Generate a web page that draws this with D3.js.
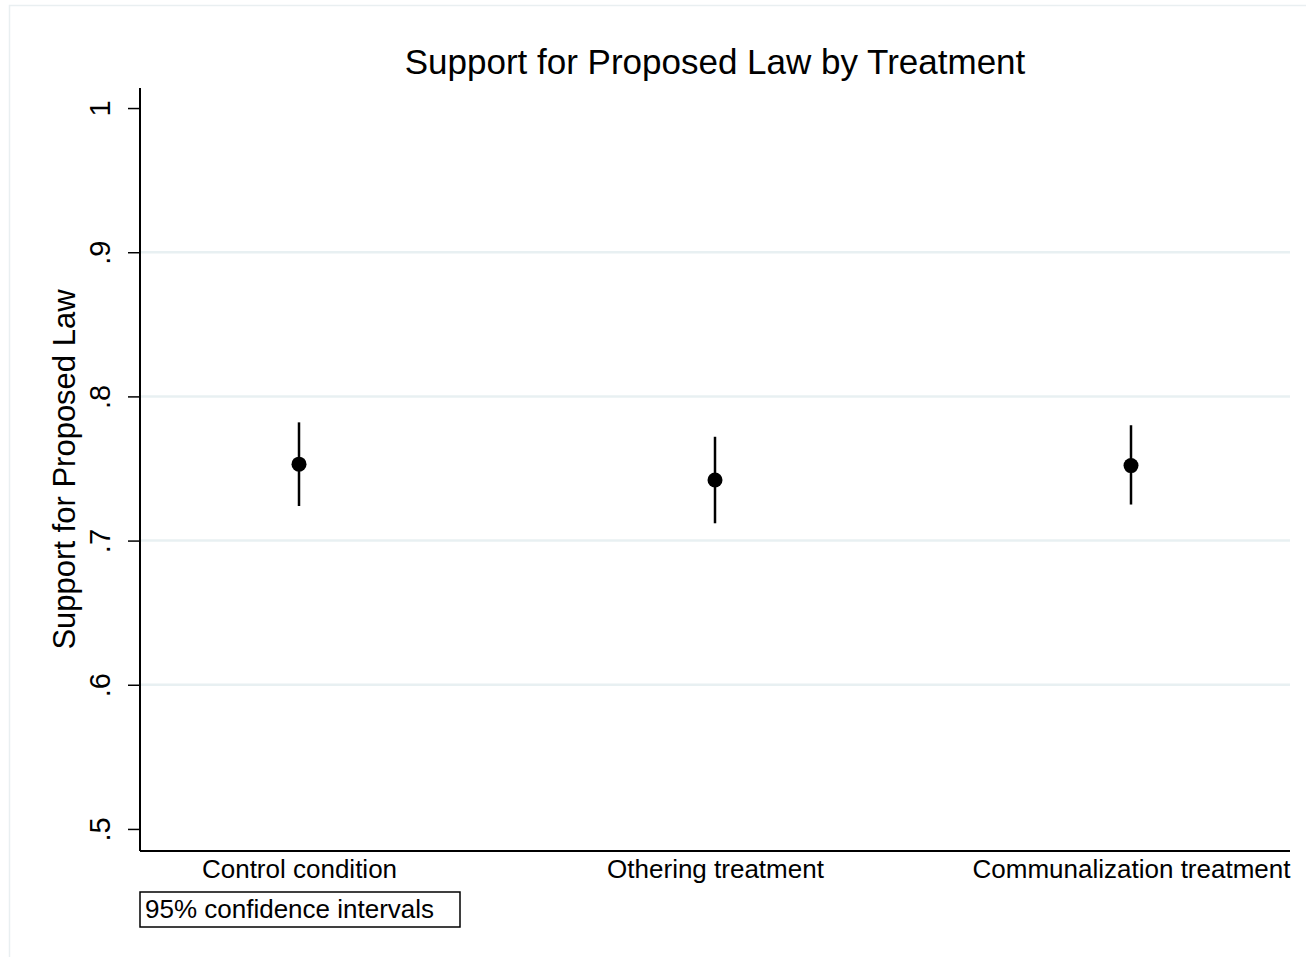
<!DOCTYPE html>
<html>
<head>
<meta charset="utf-8">
<script src="https://cdn.jsdelivr.net/npm/d3@7"></script>
<style>
  html, body { margin: 0; padding: 0; background: #fff; }
  svg { display: block; font-family: "Liberation Sans", Arial, Helvetica, sans-serif; }
</style>
</head>
<body>
<div id="chart"></div>
<script>
// Data
const categories = ["Control condition", "Othering treatment", "Communalization treatment"];
const means = [0.753, 0.742, 0.752];
const ciLower = [0.724, 0.712, 0.725];
const ciUpper = [0.782, 0.772, 0.780];
const yTicks = [0.5, 0.6, 0.7, 0.8, 0.9, 1];
const yTickLabels = [".5", ".6", ".7", ".8", ".9", "1"];

const W = 1306, H = 957;
const plot = { left: 140, right: 1290, top: 88, bottom: 851 };

const svg = d3.select("#chart").append("svg")
    .attr("width", W)
    .attr("height", H);

// Faint outer frame
svg.append("rect")
    .attr("x", 9.5).attr("y", 5.5)
    .attr("width", 1310).attr("height", 970)
    .attr("fill", "#fff")
    .attr("stroke", "#e9eff1")
    .attr("stroke-width", 1.5);

const y = d3.scaleLinear()
    .domain([0.4847, 1.0139])
    .range([plot.bottom, plot.top]);

const x = d3.scalePoint()
    .domain(categories)
    .range([299, 1131]);

// Gridlines (inner ticks only)
svg.append("g")
    .selectAll("line")
    .data(yTicks.filter(d => d > 0.5 && d < 1))
    .join("line")
    .attr("x1", plot.left).attr("x2", plot.right)
    .attr("y1", d => y(d)).attr("y2", d => y(d))
    .attr("stroke", "#e8f0f2")
    .attr("stroke-width", 2.5);

// Y axis
const yAxis = svg.append("g")
    .attr("transform", `translate(${plot.left},0)`)
    .call(d3.axisLeft(y).tickValues(yTicks)
        .tickFormat((d, i) => yTickLabels[i])
        .tickSize(12).tickSizeOuter(0));
yAxis.select(".domain").attr("stroke", "#000").attr("stroke-width", 2)
    .attr("d", `M0,${plot.bottom}V${plot.top}`);
yAxis.selectAll(".tick line").attr("stroke", "#000").attr("stroke-width", 1.5);
yAxis.selectAll(".tick text")
    .attr("font-size", 29)
    .attr("fill", "#000")
    .attr("x", 0)
    .attr("text-anchor", "middle")
    .attr("transform", "translate(-30,0) rotate(-90)")
    .attr("dy", "0");

// X axis
const xAxis = svg.append("g")
    .attr("transform", `translate(0,${plot.bottom})`)
    .call(d3.axisBottom(x).tickSize(0).tickSizeOuter(0));
xAxis.select(".domain").attr("stroke", "#000").attr("stroke-width", 2)
    .attr("d", `M${plot.left},0H${plot.right}`);
xAxis.selectAll(".tick text")
    .attr("font-size", 26)
    .attr("fill", "#000")
    .attr("y", 27)
    .attr("dy", 0);

// Confidence intervals
svg.append("g")
    .selectAll("line")
    .data(categories)
    .join("line")
    .attr("x1", d => x(d)).attr("x2", d => x(d))
    .attr("y1", (d, i) => y(ciLower[i]))
    .attr("y2", (d, i) => y(ciUpper[i]))
    .attr("stroke", "#000")
    .attr("stroke-width", 2.5);

// Point estimates
svg.append("g")
    .selectAll("circle")
    .data(categories)
    .join("circle")
    .attr("cx", d => x(d))
    .attr("cy", (d, i) => y(means[i]))
    .attr("r", 7.5)
    .attr("fill", "#000");

// Title
svg.append("text")
    .attr("x", (plot.left + plot.right) / 2)
    .attr("y", 74)
    .attr("text-anchor", "middle")
    .attr("font-size", 35)
    .attr("fill", "#000")
    .text("Support for Proposed Law by Treatment");

// Y axis title
svg.append("text")
    .attr("transform", `translate(75,${(plot.top + plot.bottom) / 2}) rotate(-90)`)
    .attr("text-anchor", "middle")
    .attr("font-size", 31)
    .attr("fill", "#000")
    .text("Support for Proposed Law");

// Note box
const note = svg.append("g");
note.append("rect")
    .attr("x", 140).attr("y", 892)
    .attr("width", 320).attr("height", 35)
    .attr("fill", "none")
    .attr("stroke", "#000")
    .attr("stroke-width", 1.5);
note.append("text")
    .attr("x", 145).attr("y", 918)
    .attr("font-size", 26)
    .attr("fill", "#000")
    .text("95% confidence intervals");
</script>
</body>
</html>
